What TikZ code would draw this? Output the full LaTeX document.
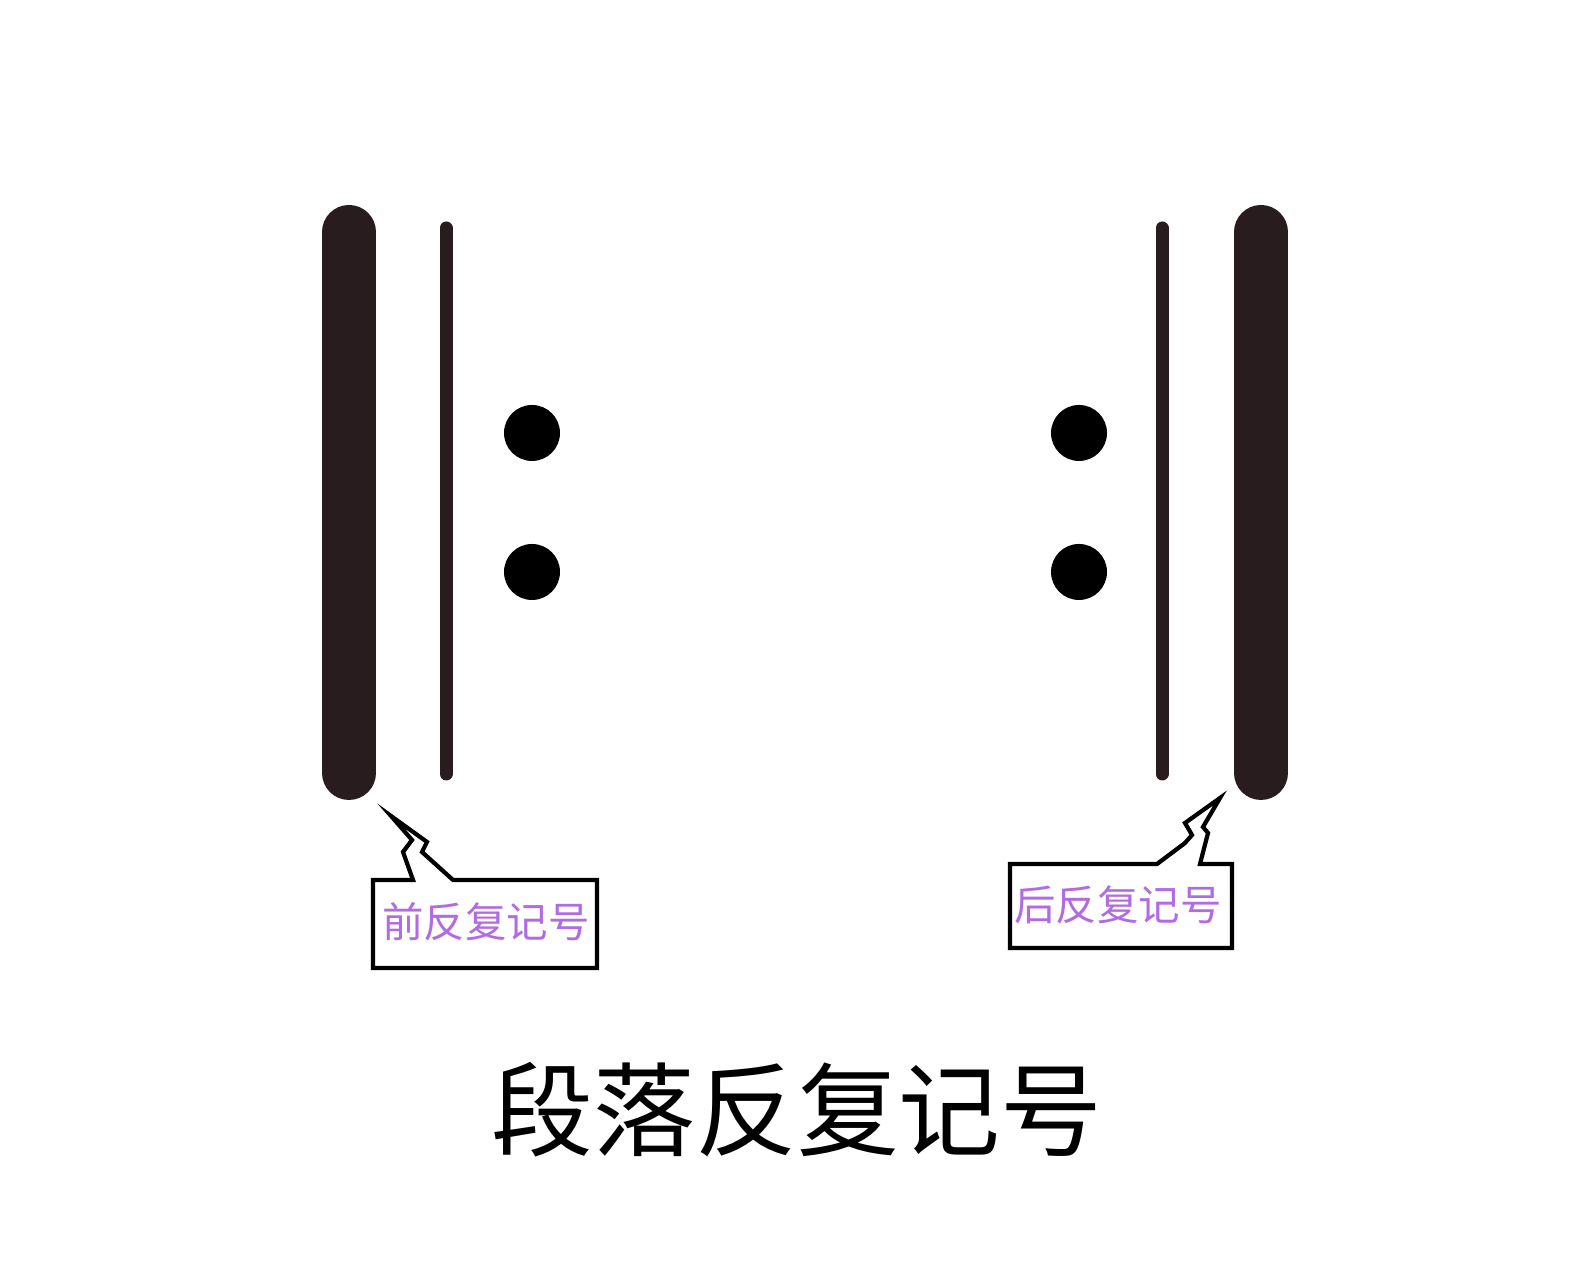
\documentclass[tikz,border=0pt]{standalone}
\usepackage{fontspec}
\newfontfamily\cjk{Noto Sans CJK SC}
\usetikzlibrary{calc}
\definecolor{barbrown}{RGB}{40,28,30}
\definecolor{tippurple}{RGB}{178,108,226}

\tikzset{
  thickbar/.style={line width=0.54cm, line cap=round, barbrown},
  thinbar/.style={line width=0.13cm, line cap=round, barbrown},
  dotmark/.style={circle, fill=black, minimum size=0.56cm, inner sep=0pt},
  callout/.style={draw=black, line width=1.2pt, fill=white, line join=miter},
  tiplabel/.style={font=\cjk\fontsize{11.8pt}{13pt}\selectfont, text=tippurple, inner sep=0pt}
}

\begin{document}
\begin{tikzpicture}
  \useasboundingbox[fill=white] (0,0) rectangle (15.76,12.8);

  % front repeat sign
  \draw[thickbar] (3.49,10.48) -- (3.49,5.07);
  \draw[thinbar] (4.46,10.52) -- (4.46,5.06);
  \node[dotmark] (ldotup) at (5.32,8.47) {};
  \node[dotmark] (ldotdn) at (5.32,7.08) {};

  % back repeat sign
  \node[dotmark] (rdotup) at (10.79,8.47) {};
  \node[dotmark] (rdotdn) at (10.79,7.08) {};
  \draw[thinbar] (11.62,10.52) -- (11.62,5.06);
  \draw[thickbar] (12.61,10.48) -- (12.61,5.07);

  % callouts
  \draw[callout] (3.73,4.00) -- (4.13,4.00) -- (4.03,4.28) -- (4.12,4.40) -- (3.91,4.64)
    -- (4.27,4.38) -- (4.22,4.28) -- (4.53,4.00) -- (5.97,4.00) -- (5.97,3.12)
    -- (3.73,3.12) -- cycle;
  \node[tiplabel] (front) at (4.86,3.58) {前反复记号};

  \draw[callout] (10.10,4.16) -- (11.57,4.16) -- (11.85,4.37) -- (11.92,4.45) -- (11.85,4.57)
    -- (12.20,4.82) -- (12.03,4.53) -- (12.08,4.47) -- (12.00,4.16) -- (12.32,4.16)
    -- (12.32,3.32) -- (10.10,3.32) -- cycle;
  \node[tiplabel] (back) at (11.18,3.75) {后反复记号};

  \node[font=\cjk\fontsize{29pt}{32pt}\selectfont] (title) at (7.97,1.70) {段落反复记号};
\end{tikzpicture}
\end{document}
